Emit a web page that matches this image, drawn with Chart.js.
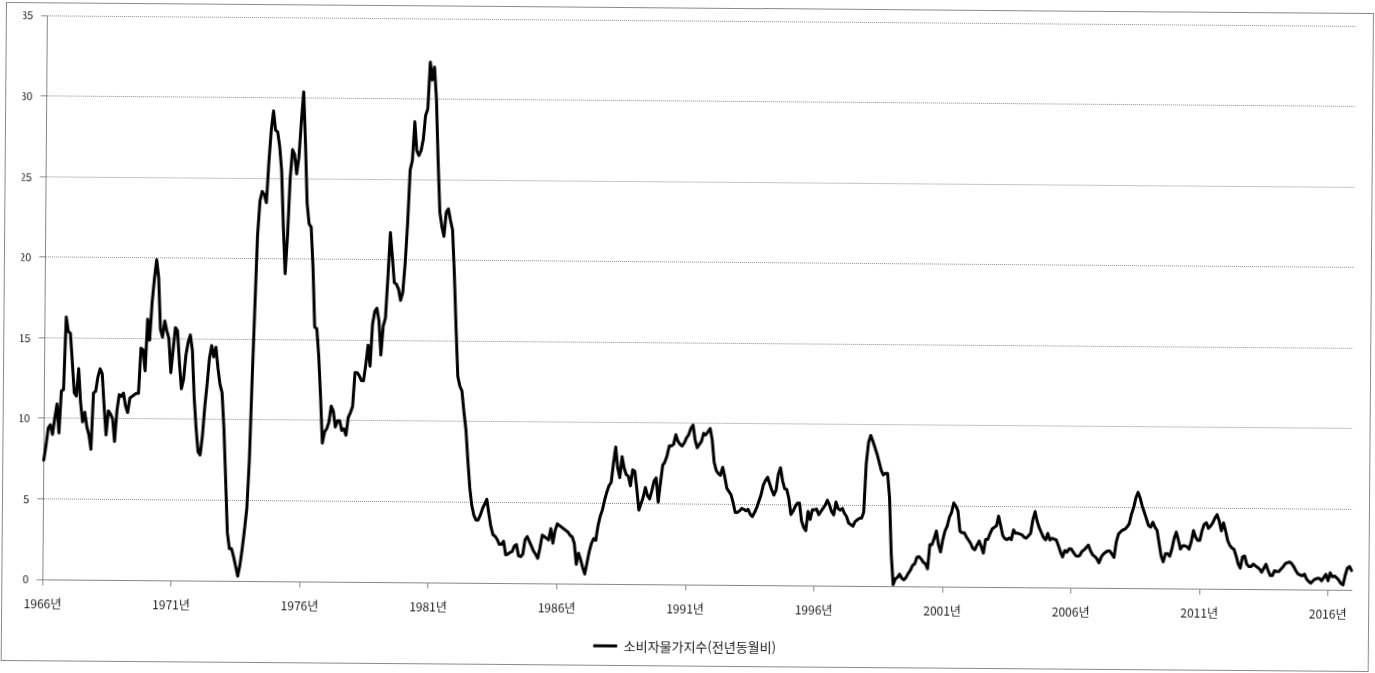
<!DOCTYPE html>
<html lang="ko">
<head>
<meta charset="utf-8">
<title>소비자물가지수(전년동월비)</title>
<script src="https://cdn.jsdelivr.net/npm/chart.js@4.4.0/dist/chart.umd.min.js"></script>
<style>
  html, body { margin: 0; padding: 0; background: #fff; overflow: hidden; }
  /* the original screenshot sits slightly tilted */
  #sheet { position: absolute; left: 0; top: 0; width: 1375px; height: 673px; transform: rotate(0.46deg); transform-origin: 0 0; }
  #frame { position: absolute; left: 6px; top: 2px; width: 1366px; height: 657px; border: 1px solid #8a8a8a; }
  #chart { position: absolute; left: 0; top: 0; }
</style>
</head>
<body>
<div id="sheet">
  <div id="frame"></div>
  <canvas id="chart" width="1375" height="673"></canvas>
</div>
<script>
// Series name and x-axis tick labels (one every 5 years)
var seriesName = "소비자물가지수(전년동월비)";
var xTickLabels = ["1966년", "1971년", "1976년", "1981년", "1986년", "1991년", "1996년", "2001년", "2006년", "2011년", "2016년"];
var startYear = 1966;
var endYear = 2016;

// Monthly values (%), Jan..Dec per row
var cpi1966to1969 = [
  7.4, 8.3, 9.4, 9.6, 9.0, 10.0, 10.9, 9.1, 11.7, 11.8, 16.3, 15.4,
  15.3, 13.5, 11.6, 11.4, 13.1, 11.0, 9.8, 10.4, 9.5, 9.0, 8.1, 11.6,
  11.7, 12.6, 13.1, 12.8, 10.8, 9.0, 10.5, 10.3, 10.0, 8.6, 10.5, 11.5,
  11.4, 11.6, 10.8, 10.4, 11.3, 11.4, 11.5, 11.6, 11.6, 14.4, 14.3, 13.0
];
var cpi1970s = [
  16.2, 14.9, 17.2, 18.7, 19.9, 18.8, 15.6, 15.1, 16.1, 15.5, 15.0, 12.9,
  14.3, 15.7, 15.5, 13.5, 11.9, 12.5, 14.0, 14.8, 15.25, 14.3, 11.4, 9.5,
  8.0, 7.8, 9.0, 10.8, 12.2, 13.8, 14.6, 13.9, 14.5, 13.2, 12.2, 11.7,
  9.5, 6.3, 3.0, 2.0, 2.0, 1.5, 0.9, 0.3, 1.0, 2.0, 3.2, 4.5,
  7.5, 12.5, 17.0, 21.5, 23.6, 24.2, 24.0, 23.5, 26.0, 28.0, 29.2, 28.0,
  27.9, 27.0, 25.5, 22.0, 19.1, 21.5, 25.0, 26.8, 26.5, 25.3, 26.3, 28.5,
  30.4, 27.3, 23.5, 22.2, 22.0, 19.5, 15.8, 15.7, 14.0, 11.5, 8.6, 9.3,
  9.5, 9.9, 10.9, 10.6, 9.6, 10.0, 10.0, 9.4, 9.5, 9.1, 10.2, 10.5,
  10.9, 13.0, 13.0, 12.8, 12.5, 12.5, 13.5, 14.7, 13.4, 16.0, 16.8, 17.0,
  16.2, 14.1, 15.9, 16.4, 18.9, 21.7, 20.2, 18.6, 18.5, 18.2, 17.5, 18.0
];
var cpi1980s = [
  19.8, 22.3, 25.6, 26.2, 28.6, 26.8, 26.5, 26.8, 27.5, 29.0, 29.4, 32.3,
  31.2, 32.0, 30.0, 26.2, 23.0, 22.1, 21.5, 23.0, 23.2, 22.5, 21.9, 19.2,
  15.8, 12.8, 12.2, 11.9, 10.6, 9.5, 7.6, 5.9, 4.8, 4.2, 3.9, 3.9,
  4.2, 4.6, 4.9, 5.2, 4.3, 3.5, 3.0, 2.9, 2.7, 2.4, 2.4, 2.6,
  1.75, 1.8, 1.9, 1.96, 2.3, 2.4, 1.7, 1.65, 1.8, 2.7, 2.9, 2.6,
  2.3, 2.0, 1.8, 1.55, 2.2, 3.0, 2.9, 2.8, 2.7, 3.4, 2.5, 3.3,
  3.7, 3.6, 3.5, 3.4, 3.3, 3.2, 3.0, 2.9, 2.5, 1.2, 1.9, 1.5,
  1.0, 0.6, 1.3, 2.0, 2.5, 2.8, 2.7, 3.6, 4.2, 4.6, 5.2, 5.7,
  6.1, 6.3, 7.5, 8.5, 7.2, 6.6, 7.9, 7.2, 6.8, 6.7, 6.1, 7.1,
  7.0, 5.9, 4.6, 5.0, 5.4, 6.0, 5.5, 5.3, 5.8, 6.4, 6.6, 5.1
];
var cpi1990s = [
  6.3, 7.4, 7.6, 8.0, 8.6, 8.6, 8.7, 9.3, 8.9, 8.7, 8.6, 8.8,
  9.1, 9.3, 9.7, 9.9, 9.0, 8.5, 8.7, 8.9, 9.4, 9.3, 9.5, 9.7,
  9.0, 7.6, 7.1, 6.9, 6.8, 7.3, 6.7, 6.0, 5.8, 5.6, 5.1, 4.5,
  4.5, 4.6, 4.75, 4.7, 4.6, 4.7, 4.4, 4.25, 4.5, 4.8, 5.2, 5.6,
  6.2, 6.5, 6.7, 6.3, 5.9, 5.6, 5.9, 6.9, 7.3, 6.5, 6.0, 5.95,
  5.4, 4.4, 4.6, 4.9, 5.1, 5.1, 4.0, 3.6, 3.4, 4.6, 4.1, 4.7,
  4.7, 4.75, 4.4, 4.6, 4.8, 5.0, 5.3, 5.0, 4.6, 4.4, 5.2, 4.8,
  4.7, 4.8, 4.5, 4.3, 3.9, 3.8, 3.7, 4.0, 4.1, 4.2, 4.2, 4.6,
  7.6, 8.9, 9.35, 9.0, 8.6, 8.2, 7.7, 7.2, 6.9, 7.0, 7.0, 5.5,
  2.0, 0.1, 0.45, 0.55, 0.75, 0.5, 0.4, 0.55, 0.8, 1.0, 1.3, 1.4
];
var cpi2000s = [
  1.8, 1.85, 1.7, 1.5, 1.4, 1.1, 2.6, 2.6, 3.0, 3.45, 2.6, 2.15,
  2.9, 3.45, 3.75, 4.3, 4.6, 5.2, 5.0, 4.7, 3.45, 3.35, 3.35, 3.1,
  2.9, 2.7, 2.4, 2.3, 2.6, 2.85, 2.5, 2.1, 2.95, 2.95, 3.3, 3.6,
  3.7, 3.8, 4.4, 3.8, 3.2, 3.0, 2.95, 3.05, 2.95, 3.55, 3.35, 3.35,
  3.3, 3.25, 3.1, 3.05, 3.2, 3.35, 4.2, 4.7, 4.1, 3.7, 3.4, 3.1,
  2.95, 3.35, 2.95, 3.05, 3.0, 2.95, 2.6, 2.2, 1.9, 2.3, 2.2, 2.4,
  2.4, 2.2, 2.0, 1.95, 2.0, 2.25, 2.35, 2.5, 2.65, 2.3, 2.05, 1.95,
  1.8, 1.55, 1.9, 2.1, 2.2, 2.3, 2.3, 2.1, 1.9, 2.85, 3.35, 3.5,
  3.6, 3.65, 3.8, 4.0, 4.6, 5.0, 5.6, 5.95, 5.6, 5.1, 4.7, 4.3,
  3.9, 3.8, 4.1, 3.8, 3.6, 2.8, 2.0, 1.65, 2.15, 2.15, 2.0, 2.45
];
var cpi2010s = [
  3.1, 3.5, 3.0, 2.45, 2.65, 2.65, 2.6, 2.45, 2.9, 3.6, 3.2, 3.0,
  3.0, 3.6, 4.0, 4.1, 3.75, 3.9, 4.1, 4.4, 4.6, 4.2, 3.6, 4.1,
  3.6, 3.0, 2.7, 2.55, 2.45, 2.05, 1.55, 1.3, 2.0, 2.05, 1.55, 1.4,
  1.4, 1.55, 1.45, 1.35, 1.25, 1.05, 1.3, 1.55, 1.15, 0.85, 0.85, 1.15,
  1.1, 1.1, 1.25, 1.4, 1.6, 1.65, 1.7, 1.6, 1.4, 1.15, 0.95, 0.9,
  0.85, 0.95, 0.65, 0.5, 0.4, 0.55, 0.65, 0.7, 0.7, 0.55, 0.75, 0.95,
  0.55, 1.05, 0.8, 0.85, 0.75, 0.6, 0.4, 0.3, 0.9, 1.35, 1.45, 1.2
];

var cpiValues = [].concat(cpi1966to1969, cpi1970s, cpi1980s, cpi1990s, cpi2000s, cpi2010s);

// One category per month
var monthLabels = [];
for (let y = startYear; y <= endYear; y++) {
  for (let m = 1; m <= 12; m++) {
    monthLabels.push(y + "년 " + m + "월");
  }
}

Chart.defaults.font.family = "'Noto Sans CJK KR', 'Noto Sans', sans-serif";
Chart.defaults.color = "#1a1a1a";

const chartConfig = {
  type: "line",
  data: {
    labels: monthLabels,
    datasets: [
      {
        label: seriesName,
        data: cpiValues,
        borderColor: "#000",
        backgroundColor: "#000",
        borderWidth: 3,
        pointRadius: 0,
        pointHoverRadius: 0,
        tension: 0,
        borderJoinStyle: "round",
        borderCapStyle: "round",
      },
    ],
  },
  options: {
    responsive: false,
    animation: false,
    layout: { padding: { left: 23.3, right: 18.8, top: 15.3, bottom: 15.5 } },
    plugins: {
      legend: {
        position: "bottom",
        labels: {
          usePointStyle: true,
          pointStyle: "line",
          pointStyleWidth: 24,
          boxHeight: 13,
          padding: 10,
          font: { size: 13 },
        },
      },
      tooltip: { enabled: false },
    },
    scales: {
      x: {
        type: "category",
        offset: false,
        afterFit: function (scale) { scale.height = 45.5; },
        afterBuildTicks: function (scale) {
          scale.ticks = scale.ticks.filter(function (t) { return t.value % 60 === 0; });
        },
        grid: { drawOnChartArea: false, tickLength: 6, tickColor: "#888", color: "#888" },
        border: { color: "#888" },
        ticks: {
          autoSkip: false,
          maxRotation: 0,
          minRotation: 0,
          padding: 11,
          font: { size: 12 },
          callback: function (value) { return xTickLabels[Math.round(value / 60)]; },
        },
      },
      y: {
        min: 0,
        max: 35,
        afterFit: function (scale) { scale.width = 24.1; },
        grid: { color: "#8c8c8c", tickColor: "#888", tickLength: 6 },
        border: { color: "#888", dash: [1, 1] },
        ticks: { stepSize: 5, padding: 8, font: { size: 11 } },
      },
    },
  },
};

new Chart(document.getElementById("chart").getContext("2d"), chartConfig);
</script>
</body>
</html>
